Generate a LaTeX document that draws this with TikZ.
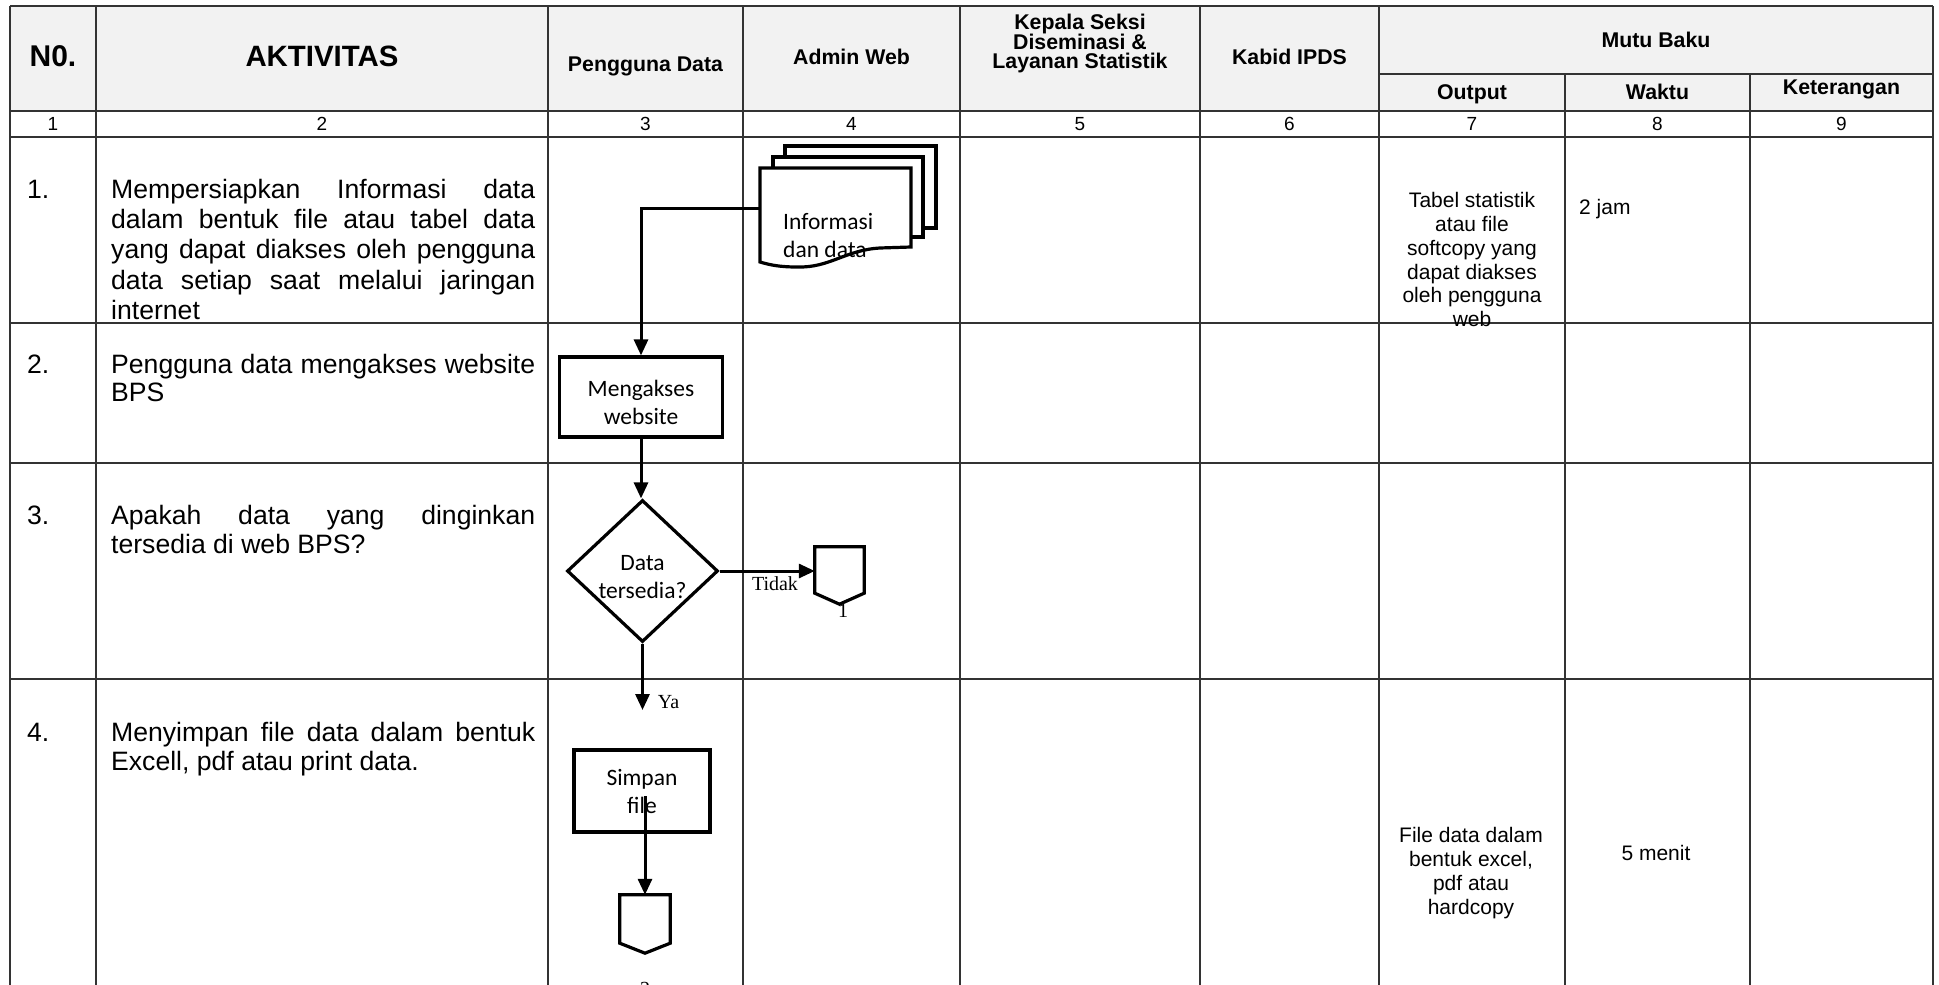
\documentclass[tikz,border=0pt]{standalone}
\usepackage{fontspec}
\setmainfont{Liberation Sans}
\newfontfamily\carlitofont{Carlito}
\newfontfamily\seriffontx{Liberation Serif}
\usetikzlibrary{arrows.meta,shapes.geometric}
\definecolor{hdrgray}{HTML}{F2F2F2}
\newcommand\justline[1]{\hbox to 424pt{#1}}
\begin{document}
\begin{tikzpicture}[x=1pt,y=-1pt,
  tline/.style={line width=1.6pt, draw=black!80},
  hdr/.style={font=\bfseries\fontsize{21.3}{24.5}\selectfont, inner sep=0, align=center},
  num/.style={font=\fontsize{19}{22}\selectfont, anchor=base, inner sep=0},
  act/.style={font=\fontsize{26.6}{30.6}\selectfont, anchor=base west, inner sep=0},
  outtxt/.style={font=\fontsize{21}{23.7}\selectfont, align=center, inner sep=0},
  shp/.style={draw=black, line width=3.2pt, fill=white},
  procbox/.style={shp, rectangle, inner sep=0},
  flow/.style={line width=3pt, -{Triangle[length=16pt,width=14pt]}},
  fctext/.style={font=\carlitofont\fontsize{23.5}{28}\selectfont, align=center, inner sep=0},
  lbl/.style={font=\seriffontx\fontsize{20}{24}\selectfont, inner sep=0, anchor=base}
]
\useasboundingbox (0,0) rectangle (1939,985);
\clip (0,0) rectangle (1939,985);
\fill[white] (0,0) rectangle (1939,985);

% ---------- table ----------
\fill[hdrgray] (10,6) rectangle (1933,111);
\draw[tline] (10,6) -- (1933,6);
\draw[tline] (1379,74) -- (1933,74);
\foreach \yy in {111,137,323,463,679} \draw[tline] (10,\yy) -- (1933,\yy);
\foreach \xx in {10,96,548,743,960,1200,1379,1933} \draw[tline] (\xx,6) -- (\xx,990);
\foreach \xx in {1565,1750} \draw[tline] (\xx,74) -- (\xx,990);

% ---------- header ----------
\node[hdr, font=\bfseries\fontsize{30}{34}\selectfont, anchor=base] (hno) at (53,66) {N0.};
\node[hdr, font=\bfseries\fontsize{29.4}{33}\selectfont, anchor=base] (hakt) at (322,66) {AKTIVITAS};
\node[hdr, anchor=base] (hpd) at (645.5,71) {Pengguna Data};
\node[hdr, anchor=base] (haw) at (851.5,64.7) {Admin Web};
\node[hdr, font=\bfseries\fontsize{21.3}{18.2}\selectfont, anchor=north] (hks) at (1080,13.5) {Kepala Seksi\\Diseminasi \&\\Layanan Statistik};
\node[hdr, anchor=base] (hki) at (1289.5,64.7) {Kabid IPDS};
\node[hdr, anchor=base] (hmb) at (1656,47.6) {Mutu Baku};
\node[hdr, anchor=base] (hout) at (1472,99) {Output};
\node[hdr, anchor=base] (hwak) at (1657.5,99) {Waktu};
\node[hdr, anchor=base] (hket) at (1841.5,94) {Keterangan};

% ---------- column numbers ----------
\node[num] (c1) at (53,130) {1};
\node[num] (c2) at (322,130) {2};
\node[num] (c3) at (645.5,130) {3};
\node[num] (c4) at (851.5,130) {4};
\node[num] (c5) at (1080,130) {5};
\node[num] (c6) at (1289.5,130) {6};
\node[num] (c7) at (1472,130) {7};
\node[num] (c8) at (1657.5,130) {8};
\node[num] (c9) at (1841.5,130) {9};

% ---------- activities ----------
\node[act] (n1) at (27,198) {1.};
\node[act] (a1l1) at (111,198) {\justline{Mempersiapkan\hfill Informasi\hfill data}};
\node[act] (a1l2) at (111,228.4) {\justline{dalam\hfill bentuk\hfill file\hfill atau\hfill tabel\hfill data}};
\node[act] (a1l3) at (111,258.8) {\justline{yang\hfill dapat\hfill diakses\hfill oleh\hfill pengguna}};
\node[act] (a1l4) at (111,289.2) {\justline{data\hfill setiap\hfill saat\hfill melalui\hfill jaringan}};
\node[act] (a1l5) at (111,319.6) {internet};

\node[act] (n2) at (27,373) {2.};
\node[act] (a2l1) at (111,373) {\justline{Pengguna\hfill data\hfill mengakses\hfill website}};
\node[act] (a2l2) at (111,401) {BPS};

\node[act] (n3) at (27,524) {3.};
\node[act] (a3l1) at (111,524) {\justline{Apakah\hfill data\hfill yang\hfill dinginkan}};
\node[act] (a3l2) at (111,553) {tersedia di web BPS?};

\node[act] (n4) at (27,741) {4.};
\node[act] (a4l1) at (111,741) {\justline{Menyimpan\hfill file\hfill data\hfill dalam\hfill bentuk}};
\node[act] (a4l2) at (111,770) {Excell, pdf atau print data.};

% ---------- mutu baku ----------
\node[outtxt, anchor=north] (o1) at (1472,192.5) {Tabel statistik\\atau file\\softcopy yang\\dapat diakses\\oleh pengguna\\web};
\node[outtxt, anchor=base west] (w1) at (1579,214.5) {2 jam};
\node[outtxt, anchor=north] (o4) at (1471,827.5) {File data dalam\\bentuk excel,\\pdf atau\\hardcopy};
\node[outtxt, anchor=base] (w4) at (1656,860.5) {5 menit};

% ---------- multi-document ----------
\draw[shp] (785,146) rectangle (936,228);
\draw[shp] (773,157) rectangle (923,237);
\draw[shp] (760,168) -- (911,168) -- (911,247) -- (880,248)
  .. controls (845,250) and (830,268) .. (797,267)
  .. controls (780,267) and (770,265) .. (760,262) -- cycle;
\node[inner sep=0, minimum width=151pt, minimum height=94pt] (doc) at (835.5,215) {};
\node[fctext, anchor=north west, align=left] (doctxt) at (783,213.5) {Informasi\\dan data};

% ---------- flow shapes ----------
\node[procbox, minimum width=163pt, minimum height=80pt] (akses) at (641,397) {};
\node[fctext] (aksestxt) at ([yshift=-5pt]akses.center) {Mengakses\\website};

\node[shp, diamond, minimum width=151pt, minimum height=142pt, inner sep=0] (decision) at (642.5,571) {};
\node[fctext] (dectxt) at ([yshift=-6pt]decision.center) {Data\\tersedia?};

\node[inner sep=0, minimum width=49pt, minimum height=57pt] (off1) at (839.5,575.5) {};
\draw[shp] (off1.north west) -- (off1.north east) -- ([yshift=11pt]off1.south east)
  -- (off1.south) -- ([yshift=11pt]off1.south west) -- cycle;

\node[procbox, minimum width=136pt, minimum height=82pt] (simpan) at (642,791) {};
\node[fctext] (simpantxt) at (simpan.center) {Simpan\\file};

\node[inner sep=0, minimum width=50pt, minimum height=58pt] (off2) at (645,924) {};
\draw[shp] (off2.north west) -- (off2.north east) -- ([yshift=10pt]off2.south east)
  -- (off2.south) -- ([yshift=10pt]off2.south west) -- cycle;

\coordinate (yaend) at (642,710);

% ---------- connectors ----------
\draw[flow] ([yshift=7pt]doc.west) -| (akses.north);
\draw[flow] (akses.south) -- (akses.south |- decision.north);
\draw[flow] (decision.east) -- (decision.east -| off1.west);
\draw[flow] (decision.south) -- (decision.south |- yaend);
\draw[flow] ([xshift=3pt,yshift=-5pt]simpan.center) -- (off2.north);

% ---------- labels ----------
\node[lbl] (tidak) at (775,590) {Tidak};
\node[lbl] (ya) at (668.5,708.5) {Ya};
\node[lbl] (lab1) at (843,617) {1};
\node[lbl] (lab2) at (645,995.5) {2};
\end{tikzpicture}
\end{document}
